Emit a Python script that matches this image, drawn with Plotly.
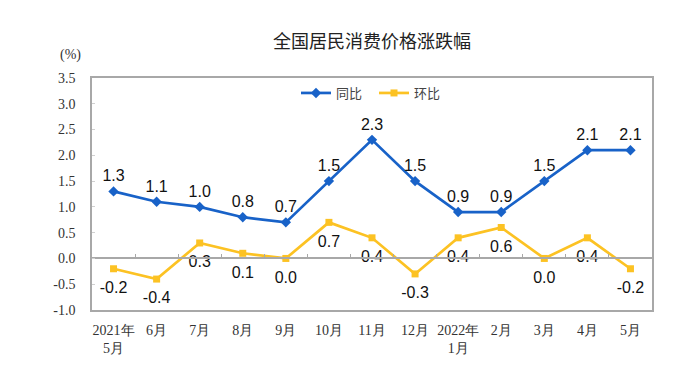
import plotly.graph_objects as go

categories = ["2021年<br>5月", "6月", "7月", "8月", "9月", "10月", "11月", "12月",
              "2022年<br>1月", "2月", "3月", "4月", "5月"]
yoy = [1.3, 1.1, 1.0, 0.8, 0.7, 1.5, 2.3, 1.5, 0.9, 0.9, 1.5, 2.1, 2.1]
mom = [-0.2, -0.4, 0.3, 0.1, 0.0, 0.7, 0.4, -0.3, 0.4, 0.6, 0.0, 0.4, -0.2]
ytick_vals = [-1.0, -0.5, 0.0, 0.5, 1.0, 1.5, 2.0, 2.5, 3.0, 3.5]
ytick_text = [f"{v:.1f}" for v in ytick_vals]

BLUE = "#1862c8"
YELLOW = "#fcc223"
GRID = "#a8a8a8"

# the page adds an 8px body margin; figure coordinates below account for it
L, R, T, B = 84, 56, 70, 74
PW, PH = 700 - L - R, 376 - T - B

LABEL_FONT = dict(family="Liberation Sans, Arial", size=16, color="#111")
XRANGE = [-0.5, len(categories) - 0.5]

fig = go.Figure()
fig.add_trace(go.Scatter(
    x=categories, y=yoy, name="同比", mode="lines+markers+text",
    line=dict(color=BLUE, width=2.7),
    marker=dict(symbol="diamond", size=8, color=BLUE),
    text=[f"{v:.1f}" for v in yoy], textposition="top center",
    textfont=LABEL_FONT,
))
fig.add_trace(go.Scatter(
    x=categories, y=mom, name="环比", mode="lines+markers",
    line=dict(color=YELLOW, width=2.7),
    marker=dict(symbol="square", size=7, color=YELLOW),
))
# labels for 环比, placed a little further below the points
fig.add_trace(go.Scatter(
    x=categories, y=mom, mode="markers+text", showlegend=False, hoverinfo="skip",
    marker=dict(size=18, color="rgba(0,0,0,0)"),
    text=[f"{v:.1f}" for v in mom], textposition="bottom center",
    textfont=LABEL_FONT,
))
fig.add_trace(go.Scatter(x=categories, y=[None] * len(categories), xaxis="x2",
                         showlegend=False, hoverinfo="skip"))

fig.update_layout(
    width=700, height=376,
    margin=dict(l=L, r=R, t=T, b=B),
    paper_bgcolor="white", plot_bgcolor="white",
    title=dict(text="全国居民消费价格涨跌幅", x=0.5, xref="paper", y=1 - 34 / 376,
               yanchor="middle", xanchor="center",
               font=dict(family="Noto Sans CJK SC", size=18, color="#222")),
    legend=dict(orientation="h", x=(288 - L) / PW, y=(PH + T - 85) / PH,
                xanchor="left", yanchor="middle",
                font=dict(family="Noto Sans CJK SC", size=13, color="#444"),
                bgcolor="rgba(0,0,0,0)", itemwidth=30, entrywidth=33,
                entrywidthmode="pixels"),
    showlegend=True,
    xaxis=dict(type="category", range=XRANGE, showline=True, linecolor=GRID,
               linewidth=1.5, mirror=True, ticks="", showgrid=False,
               ticklabelstandoff=6,
               tickfont=dict(family="Liberation Serif, serif", size=14, color="#333")),
    xaxis2=dict(type="category", overlaying="x", anchor="free", position=1 / 4.5,
                range=XRANGE, showline=True, linecolor=GRID, linewidth=1.5,
                ticks="inside", tickson="boundaries", ticklen=4, tickcolor=GRID,
                showticklabels=False, showgrid=False),
    yaxis=dict(range=[-1.0, 3.5], tickvals=ytick_vals, ticktext=ytick_text,
               showline=True, linecolor=GRID, linewidth=1.5, mirror=True,
               ticks="inside", ticklen=3, tickcolor="#d0d0d0",
               showgrid=False, zeroline=False, ticklabelstandoff=12,
               tickfont=dict(family="Liberation Serif, serif", size=14, color="#333")),
    annotations=[dict(text="(%)", x=(62 - L) / PW, y=(PH + T - 47) / PH,
                      xref="paper", yref="paper", showarrow=False,
                      xanchor="center", yanchor="middle",
                      font=dict(family="Liberation Serif, serif", size=14, color="#333"))],
)

fig.write_html("out.html")
